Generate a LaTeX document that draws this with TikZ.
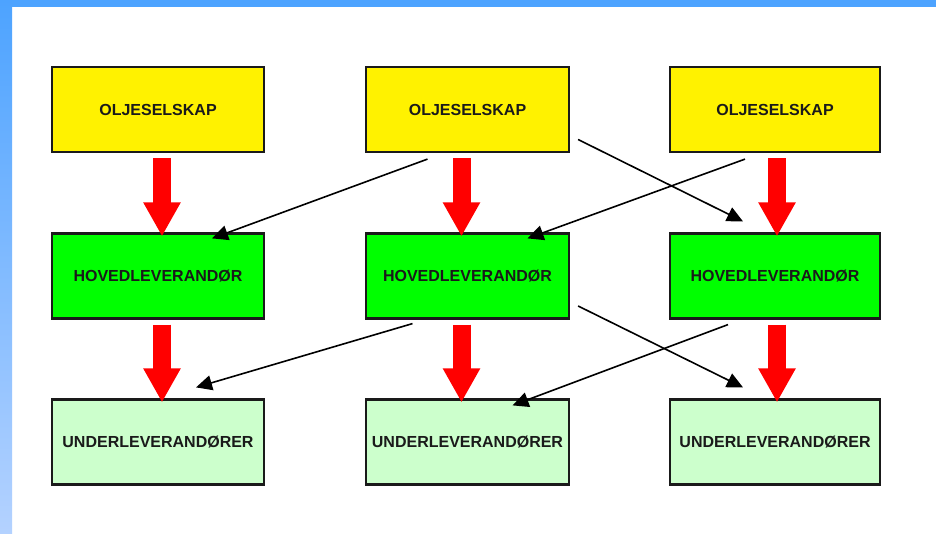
\documentclass[tikz,border=0pt]{standalone}
\usepackage{fontspec}
\setmainfont{Liberation Sans}
\usetikzlibrary{arrows.meta,calc}

\definecolor{bandblue}{HTML}{4DA3FF}
\definecolor{bandpale}{HTML}{B4D2FF}
\definecolor{lightgreen}{HTML}{CCFFCC}
\definecolor{textdark}{HTML}{1A1A1A}

\begin{document}
\begin{tikzpicture}[
    x=1pt,y=-1pt,
    box/.style={draw=textdark, line width=2.2pt, minimum height=85pt, inner sep=0pt,
      font=\fontsize{16}{16}\selectfont\bfseries, text=textdark},
    company/.style={box, fill=yellow},
    mainsup/.style={box, fill=green},
    subsup/.style={box, fill=lightgreen},
    flow/.style={red, line width=18pt, -{Triangle[width=35pt,length=34pt]}},
    link/.style={black, line width=1.6pt, -{Triangle[width=15pt,length=16pt]}}
    ]
    \useasboundingbox (0,0) rectangle (936,534);
    \fill[white] (0,0) rectangle (936,534);
    \fill[bandblue] (0,0) rectangle (936,7);
    \shade[top color=bandblue, bottom color=bandpale] (0,0) rectangle (12,534);

    \node[company, minimum width=212pt] (o1) at (158, 109.5) {OLJESELSKAP};
    \node[company, minimum width=203pt] (o2) at (467.5, 109.5) {OLJESELSKAP};
    \node[company, minimum width=210pt] (o3) at (775, 109.5) {OLJESELSKAP};
    \node[mainsup, minimum width=212pt] (h1) at (158, 276) {HOVEDLEVERANDØR};
    \node[mainsup, minimum width=203pt] (h2) at (467.5, 276) {HOVEDLEVERANDØR};
    \node[mainsup, minimum width=210pt] (h3) at (775, 276) {HOVEDLEVERANDØR};
    \node[subsup, minimum width=212pt] (u1) at (158, 442) {UNDERLEVERANDØRER};
    \node[subsup, minimum width=203pt] (u2) at (467.5, 442) {UNDERLEVERANDØRER};
    \node[subsup, minimum width=210pt] (u3) at (775, 442) {UNDERLEVERANDØRER};

    % red arrows down each column
    \draw[flow] ($(o1.south)+(4,5)$) -- ($(h1.north)+(4,4)$);
    \draw[flow] ($(o2.south)+(-6,5)$) -- ($(h2.north)+(-6,4)$);
    \draw[flow] ($(o3.south)+(2,5)$) -- ($(h3.north)+(2,4)$);
    \draw[flow] ($(h1.south)+(4,5)$) -- ($(u1.north)+(4,4)$);
    \draw[flow] ($(h2.south)+(-6,5)$) -- ($(u2.north)+(-6,4)$);
    \draw[flow] ($(h3.south)+(2,5)$) -- ($(u3.north)+(2,4)$);

    % crossing links
    \draw[link] ($(o2.south)+(-40,6)$) -- ($(h1.north)+(54,6)$);
    \draw[link] ($(o2.east)+(8,30)$) -- ($(h3.north)+(-32,-11)$);
    \draw[link] ($(o3.south)+(-30,6)$) -- ($(h2.north)+(60,6)$);
    \draw[link] ($(h2.south)+(-55,4)$) -- ($(u1.north)+(38,-11)$);
    \draw[link] ($(h2.east)+(8,30)$) -- ($(u3.north)+(-32,-11)$);
    \draw[link] ($(h3.south)+(-47,5)$) -- ($(u2.north)+(45,7)$);
\end{tikzpicture}
\end{document}
